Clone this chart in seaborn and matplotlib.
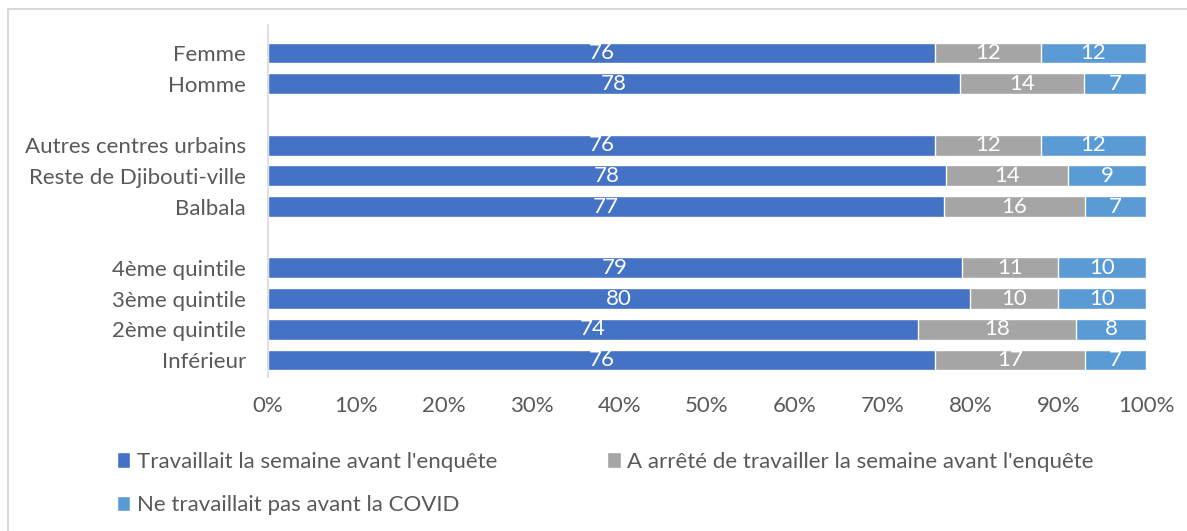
import matplotlib
matplotlib.use("Agg")
import matplotlib.pyplot as plt
import seaborn as sns
import pandas as pd
import numpy as np
from matplotlib.patches import Patch, Rectangle

categories = ["Femme", "Homme", "Autres centres urbains", "Reste de Djibouti-ville",
              "Balbala", "4ème quintile", "3ème quintile", "2ème quintile", "Inférieur"]
travaillait = [76, 78, 76, 78, 77, 79, 80, 74, 76]
arrete = [12, 14, 12, 14, 16, 11, 10, 18, 17]
pas_avant = [12, 7, 12, 9, 7, 10, 10, 8, 7]
series_names = ["Travaillait la semaine avant l'enquête",
                "A arrêté de travailler la semaine avant l'enquête",
                "Ne travaillait pas avant la COVID"]
order = ["Femme", "Homme", " ", "Autres centres urbains", "Reste de Djibouti-ville",
         "Balbala", "  ", "4ème quintile", "3ème quintile", "2ème quintile", "Inférieur"]
xticks = [0, 10, 20, 30, 40, 50, 60, 70, 80, 90, 100]

colors = ["#4472C4", "#A5A5A5", "#5B9BD5"]
text_color = "#595959"
FS = 16

sns.set_theme(style="white")
plt.rcParams["font.family"] = ["Lato", "DejaVu Sans"]

df = pd.DataFrame({"cat": categories, "a": travaillait, "b": arrete, "c": pas_avant})
tot = df["a"] + df["b"] + df["c"]
df["pa"] = df["a"] / tot * 100
df["pb"] = df["b"] / tot * 100
df["pc"] = df["c"] / tot * 100
df["c1"] = df["pa"]
df["c2"] = df["pa"] + df["pb"]
df["c3"] = df["c2"] + df["pc"]

fig = plt.figure(figsize=(11.87, 5.31), dpi=100)
ax = fig.add_axes([268 / 1187, 0.2902, (1146 - 268) / 1187, 0.9533 - 0.2902])

for col, color in zip(["c3", "c2", "c1"], colors[::-1]):
    sns.barplot(data=df, x=col, y="cat", order=order, color=color, orient="h",
                width=0.68, edgecolor="white", linewidth=1, saturation=1, ax=ax)

ax.set_xlim(0, 100)
ax.set_ylim(10.55, -0.92)
ax.set_xticks(xticks)
ax.set_xticklabels([f"{t}%" for t in xticks], fontsize=FS, color=text_color)
ax.tick_params(axis="y", labelsize=FS, labelcolor=text_color, length=0, pad=16)
ax.tick_params(axis="x", length=0, pad=14)
ax.set_xlabel("")
ax.set_ylabel("")
for s in ["top", "right", "bottom"]:
    ax.spines[s].set_visible(False)
ax.spines["left"].set_color("#D9D9D9")
ax.spines["left"].set_linewidth(1.2)

ypos = {c: i for i, c in enumerate(order)}
for _, r in df.iterrows():
    y = ypos[r["cat"]]
    starts = [0, r["c1"], r["c2"]]
    widths = [r["pa"], r["pb"], r["pc"]]
    vals = [r["a"], r["b"], r["c"]]
    for s, w, v in zip(starts, widths, vals):
        ax.text(s + w / 2, y, f"{v}", ha="center", va="center", color="white", fontsize=FS)

handles = [Patch(facecolor=colors[0]), Patch(facecolor=colors[2]), Patch(facecolor=colors[1])]
labels = [series_names[0], series_names[2], series_names[1]]
fig.legend(handles, labels, ncol=2, loc="upper left", bbox_to_anchor=(97 / 1187, 1 - 432 / 531),
           frameon=False, fontsize=FS, handlelength=0.6, handleheight=0.7, handletextpad=0.3,
           columnspacing=4.95, labelspacing=1.05, labelcolor=text_color)

fig.patches.append(Rectangle((8 / 1187, -0.1), 1.2, 1 - 9 / 531 + 0.1, transform=fig.transFigure,
                             fill=False, edgecolor="#D9D9D9", linewidth=1.5))

fig.savefig("out.png", dpi=100)
